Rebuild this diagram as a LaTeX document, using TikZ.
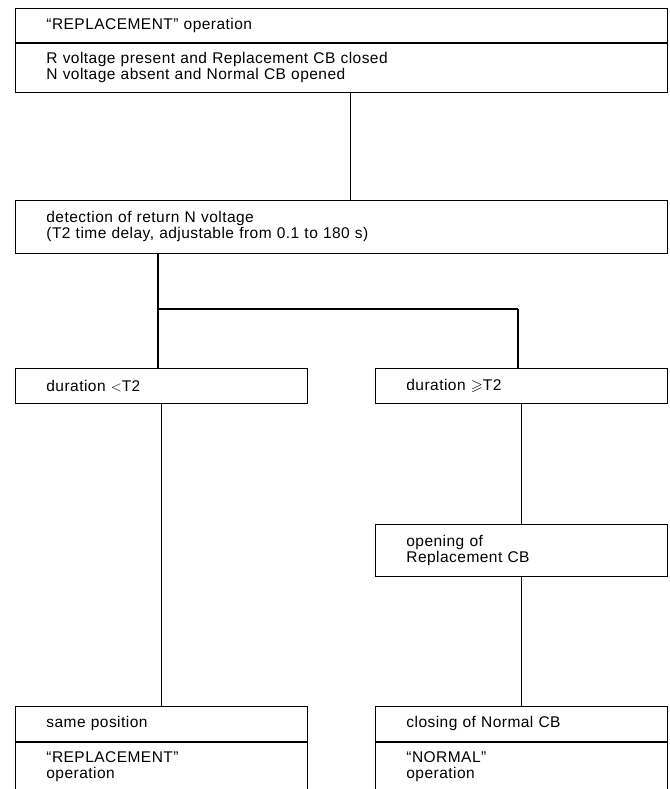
\documentclass[tikz,border=0pt]{standalone}
\usepackage{amssymb}
\usepackage{fontspec}
\setmainfont{Liberation Sans}[LetterSpace=3]
\tikzset{
  x=1pt, y=-1pt,
  every node/.style={font=\fontsize{15.5}{16}\selectfont},
  box/.style={draw, line width=0.8pt, anchor=north west, align=left,
    inner xsep=31pt, inner ysep=1pt, minimum height=#1},
  wide/.style={box=#1, text width=590pt},
  half/.style={box=#1, text width=230pt},
  link/.style={line width=1.2pt},
  bar/.style={line width=2pt},
  divider/.style={line width=1.6pt},
}

\begin{document}
\begin{tikzpicture}
  \useasboundingbox (0,0) rectangle (669,789);

  % boxes
  \node[wide=34pt] (rep) at (15,8) {``REPLACEMENT'' operation};
  \node[wide=50pt] (cond) at (15,42) {R voltage present and Replacement CB closed\\N voltage absent and Normal CB opened};
  \node[wide=53pt] (det) at (15,200) {detection of return N voltage\\(T2 time delay, adjustable from 0.1 to 180 s)};
  \node[half=35pt] (lt) at (15,368) {duration $<$T2};
  \node[half=35pt] (ge) at (375,368) {duration $\geqslant$T2};
  \node[half=52pt] (open) at (375,524) {opening of\\Replacement CB};
  \node[half=35pt] (same) at (15,706) {same position};
  \node[half=51pt] (repop) at (15,741) {``REPLACEMENT''\\operation};
  \node[half=35pt] (close) at (375,706) {closing of Normal CB};
  \node[half=51pt] (norm) at (375,741) {``NORMAL''\\operation};

  % dividers
  \draw[divider] (rep.south west) -- (rep.south east);
  \draw[divider] (same.south west) -- (same.south east);
  \draw[divider] (close.south west) -- (close.south east);

  % connections
  \coordinate (forkL) at (158,309);
  \coordinate (forkR) at (518,309);
  \draw[link] ([xshift=9pt]cond.south) -- ([xshift=9pt]det.north);
  \draw[link] (det.south -| forkL) -- (lt.north -| forkL);
  \draw[bar] (forkL) -- (forkR);
  \draw[link] (forkR) -- (ge.north -| forkR);
  \draw[link] (lt.south) -- (same.north);
  \draw[link] (ge.south) -- (open.north);
  \draw[link] (open.south) -- (close.north);
\end{tikzpicture}
\end{document}
